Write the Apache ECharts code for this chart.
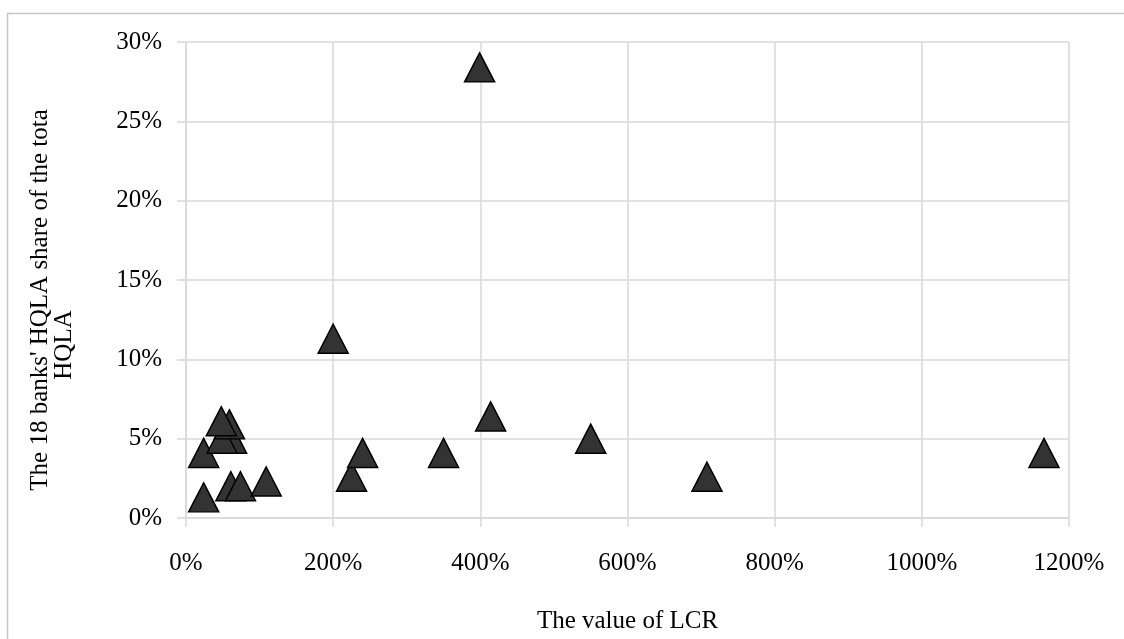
<!DOCTYPE html>
<html>
<head>
<meta charset="utf-8">
<script src="https://cdn.jsdelivr.net/npm/echarts@6/dist/echarts.min.js"></script>
<style>
html,body{margin:0;padding:0;background:#fff;}
#chart{width:1124px;height:639px;}
</style>
</head>
<body>
<div id="chart"></div>
<script>
// LCR value (%) of each bank
var lcrValues = [24, 24, 61, 74, 109, 225, 240, 200, 350, 399, 414, 550, 708, 1166, 62, 49, 59, 48];
// Bank's share of total HQLA (%)
var hqlaShares = [4.1, 1.3, 2.0, 2.0, 2.3, 2.6, 4.1, 11.3, 4.1, 28.4, 6.4, 5.0, 2.6, 4.1, 5.0, 5.0, 5.9, 6.1];
var xTicks = {min: 0, max: 1200, interval: 200};
var yTicks = {min: 0, max: 30, interval: 5};
var xTitle = 'The value of LCR';
var yTitleLine1 = "The 18 banks' HQLA share of the tota";
var yTitleLine2 = 'HQLA';

var points = lcrValues.map(function (v, i) { return [v, hqlaShares[i]]; });
var serif = 'Liberation Serif';
var gridColor = '#d9d9d9';
var pct = function (v) { return v + '%'; };

var chart = echarts.init(document.getElementById('chart'), null, {renderer: 'canvas'});
chart.setOption({
  animation: false,
  backgroundColor: '#fff',
  graphic: [{
    type: 'rect',
    z: -10,
    shape: {x: 7.5, y: 13.5, width: 1200, height: 700},
    style: {fill: 'none', stroke: '#c6c6c6', lineWidth: 1.5}
  }, {
    type: 'text',
    x: 40, y: 300,
    rotation: Math.PI / 2,
    style: {text: yTitleLine1, font: '25px "Liberation Serif"', fill: '#000', align: 'center', verticalAlign: 'middle'}
  }, {
    type: 'text',
    x: 64, y: 345,
    rotation: Math.PI / 2,
    style: {text: yTitleLine2, font: '25px "Liberation Serif"', fill: '#000', align: 'center', verticalAlign: 'middle'}
  }],
  grid: {left: 186, right: 55, top: 42, bottom: 119, containLabel: false},
  xAxis: {
    type: 'value',
    min: xTicks.min, max: xTicks.max, interval: xTicks.interval,
    name: xTitle,
    nameLocation: 'middle',
    nameGap: 91,
    nameTextStyle: {fontFamily: serif, fontSize: 25, color: '#000'},
    axisLine: {show: true, lineStyle: {color: gridColor, width: 1.5}},
    axisTick: {show: true, length: 9, lineStyle: {color: gridColor, width: 1.5}},
    splitLine: {show: true, lineStyle: {color: gridColor, width: 1.5}},
    axisLabel: {fontFamily: serif, fontSize: 25, color: '#000', margin: 33, formatter: pct}
  },
  yAxis: {
    type: 'value',
    min: yTicks.min, max: yTicks.max, interval: yTicks.interval,
    axisLine: {show: true, lineStyle: {color: gridColor, width: 1.5}},
    axisTick: {show: true, length: 9, lineStyle: {color: gridColor, width: 1.5}},
    splitLine: {show: true, lineStyle: {color: gridColor, width: 1.5}},
    axisLabel: {fontFamily: serif, fontSize: 25, color: '#000', margin: 24, formatter: pct}
  },
  series: [{
    type: 'scatter',
    data: points,
    symbol: 'triangle',
    symbolSize: [30, 29],
    itemStyle: {color: '#333333', borderColor: '#000', borderWidth: 1.5, opacity: 1}
  }]
});
</script>
</body>
</html>
